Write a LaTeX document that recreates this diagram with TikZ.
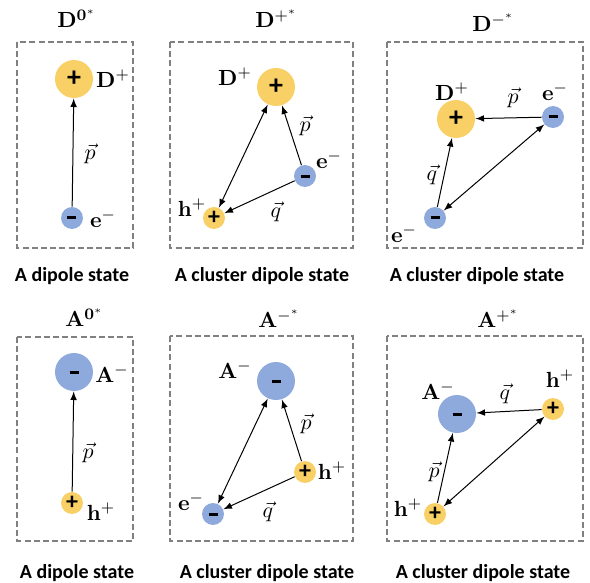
\documentclass[tikz,border=0pt]{standalone}
\usepackage{amsmath}
\usepackage[no-math]{fontspec}
\setmainfont{Carlito}
\usetikzlibrary{arrows,calc}
\definecolor{holeyellow}{HTML}{F9D065}
\definecolor{elecblue}{HTML}{8EA9DB}
\definecolor{boxgray}{HTML}{808080}
\newcommand{\mns}{\rule{4.5pt}{1.5pt}}

\begin{document}
\begin{tikzpicture}[>=latex, x=0.5pt, y=-0.5pt]
	\tikzstyle{panel}=[draw=boxgray, line width=0.9pt, dash pattern=on 3pt off 1.6pt]
	\tikzstyle{ion}=[circle, inner sep=0pt, minimum size=19pt, font=\fontsize{14}{14}\selectfont\bfseries]
	\tikzstyle{carrier}=[circle, inner sep=0pt, minimum size=11pt, font=\fontsize{12}{12}\selectfont\bfseries]
	\tikzstyle{hole}=[fill=holeyellow]
	\tikzstyle{electron}=[fill=elecblue]
	\tikzstyle{lbl}=[font=\fontsize{11}{13}\selectfont, inner sep=0pt]
	\tikzstyle{ttl}=[font=\fontsize{11}{13}\selectfont, inner sep=0pt, anchor=base west]
	\tikzstyle{caption}=[font=\fontsize{10}{12}\selectfont\bfseries, inner sep=0pt]
	\tikzstyle{vec}=[line width=0.5pt, ->]
	\tikzstyle{pair}=[line width=0.5pt, <->]

	\useasboundingbox (0,0) rectangle (590,583);

	% dashed frames
	\draw [panel] (17,42) rectangle (133,248);
	\draw [panel] (170,42) rectangle (353,248);
	\draw [panel] (387,42) rectangle (583,248);
	\draw [panel] (17,337) rectangle (133,541);
	\draw [panel] (170,336) rectangle (353,541);
	\draw [panel] (387,336) rectangle (583,541);

	% titles
	\node (T1) [ttl] at (57,28) {$\mathbf{D}^{\mathbf{0}^*}$};
	\node (T2) [ttl] at (255,28) {$\mathbf{D}^{+^*}$};
	\node (T3) [ttl] at (472,32) {$\mathbf{D}^{-^*}$};
	\node (T4) [ttl] at (65,327) {$\mathbf{A}^{\mathbf{0}^*}$};
	\node (T5) [ttl] at (258,328) {$\mathbf{A}^{-^*}$};
	\node (T6) [ttl] at (477,328) {$\mathbf{A}^{+^*}$};

	% D0*
	\node (D1) [ion, hole] at (74,79) {+};
	\node (e1) [carrier, electron] at (72,218) {\mns};
	\node (lD1) [lbl] at (113,79) {$\mathbf{D}^{+}$};
	\node (le1) [lbl] at (103,219) {$\mathbf{e}^{-}$};
	\draw [vec] (e1) -- (D1);
	\node (p1) [lbl] at (90,154) {$\vec{p}$};

	% D+*
	\node (D2) [ion, hole] at (276,87) {+};
	\node (e2) [carrier, electron] at (305,176) {\mns};
	\node (h2) [carrier, hole] at (214,218) {+};
	\node (lD2) [lbl] at (235,77) {$\mathbf{D}^{+}$};
	\node (le2) [lbl] at (329,160) {$\mathbf{e}^{-}$};
	\node (lh2) [lbl] at (192,208) {$\mathbf{h}^{+}$};
	\draw [vec] (e2) -- (D2);
	\draw [vec] (e2) -- (h2);
	\draw [pair] (D2) -- (h2);
	\node (p2) [lbl] at (305,126) {$\vec{p}$};
	\node (q2) [lbl] at (276,212) {$\vec{q}$};

	% D-*
	\node (D3) [ion, hole] at (456,119) {+};
	\node (eu3) [carrier, electron] at (553,117) {\mns};
	\node (el3) [carrier, electron] at (435,218) {\mns};
	\node (lD3) [lbl] at (452,92) {$\mathbf{D}^{+}$};
	\node (leu3) [lbl] at (555,92) {$\mathbf{e}^{-}$};
	\node (lel3) [lbl] at (404,234) {$\mathbf{e}^{-}$};
	\draw [vec] (eu3) -- (D3);
	\draw [vec] (el3) -- (D3);
	\draw [pair] (eu3) -- (el3);
	\node (p3) [lbl] at (513,98) {$\vec{p}$};
	\node (q3) [lbl] at (432,175) {$\vec{q}$};

	% A0*
	\node (A4) [ion, electron] at (74,372) {\mns};
	\node (h4) [carrier, hole] at (72,503) {+};
	\node (lA4) [lbl] at (112,374) {$\mathbf{A}^{-}$};
	\node (lh4) [lbl] at (101,512) {$\mathbf{h}^{+}$};
	\draw [vec] (h4) -- (A4);
	\node (p4) [lbl] at (88,453) {$\vec{p}$};

	% A-*
	\node (A5) [ion, electron] at (276,381) {\mns};
	\node (h5) [carrier, hole] at (305,472) {+};
	\node (e5) [carrier, electron] at (213,514) {\mns};
	\node (lA5) [lbl] at (235,370) {$\mathbf{A}^{-}$};
	\node (lh5) [lbl] at (332,471) {$\mathbf{h}^{+}$};
	\node (le5) [lbl] at (191,502) {$\mathbf{e}^{-}$};
	\draw [vec] (h5) -- (A5);
	\draw [vec] (h5) -- (e5);
	\draw [pair] (A5) -- (e5);
	\node (p5) [lbl] at (306,424) {$\vec{p}$};
	\node (q5) [lbl] at (268,512) {$\vec{q}$};

	% A+*
	\node (A6) [ion, electron] at (457,414) {\mns};
	\node (hu6) [carrier, hole] at (553,409) {+};
	\node (hl6) [carrier, hole] at (435,514) {+};
	\node (lA6) [lbl] at (438,391) {$\mathbf{A}^{-}$};
	\node (lhu6) [lbl] at (560,379) {$\mathbf{h}^{+}$};
	\node (lhl6) [lbl] at (408,508) {$\mathbf{h}^{+}$};
	\draw [vec] (hu6) -- (A6);
	\draw [vec] (hl6) -- (A6);
	\draw [pair] (hu6) -- (hl6);
	\node (q6) [lbl] at (505,394) {$\vec{q}$};
	\node (p6) [lbl] at (434,472) {$\vec{p}$};

	% captions
	\node (c1) [caption] at (72,276) {A dipole state};
	\node (c2) [caption] at (262,276) {A cluster dipole state};
	\node (c3) [caption] at (477,276) {A cluster dipole state};
	\node (c4) [caption] at (77,573) {A dipole state};
	\node (c5) [caption] at (267,573) {A cluster dipole state};
	\node (c6) [caption] at (483,573) {A cluster dipole state};
\end{tikzpicture}
\end{document}
